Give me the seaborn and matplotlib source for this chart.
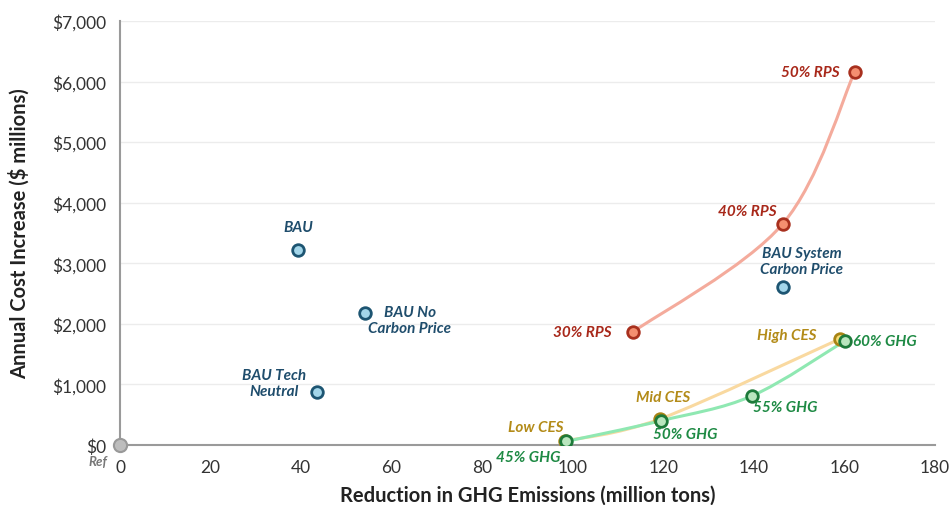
import matplotlib
matplotlib.use("Agg")
import matplotlib.pyplot as plt
from matplotlib.path import Path
from matplotlib.patches import PathPatch
from matplotlib.ticker import FuncFormatter
import numpy as np
import pandas as pd
import seaborn as sns

# scenario data (million tons reduced, $ millions)
bau_names = ["BAU", "BAU No\nCarbon Price", "BAU Tech\nNeutral", "BAU System\nCarbon Price"]
bau_x = [39.3, 54.1, 43.5, 146.4]
bau_y = [3220, 2180, 875, 2610]

rps_names = ["30% RPS", "40% RPS", "50% RPS"]
rps_x = [113.3, 146.4, 162.3]
rps_y = [1866, 3650, 6160]

ces_names = ["Low CES", "Mid CES", "High CES"]
ces_x = [98.3, 119.3, 159.0]
ces_y = [66, 430, 1750]

ghg_names = ["45% GHG", "50% GHG", "55% GHG", "60% GHG"]
ghg_x = [98.6, 119.5, 139.6, 160.1]
ghg_y = [60, 400, 810, 1717]

ref_x = [0]
ref_y = [0]

x_ticks = [0, 20, 40, 60, 80, 100, 120, 140, 160, 180]
y_ticks = [0, 1000, 2000, 3000, 4000, 5000, 6000, 7000]

# label offsets in pixels + alignment
bau_lab = [((0, 23), "center"), ((45, -7), "center"), ((-43, 9), "center"), ((19, 26), "center")]
rps_lab = [((-21, 0), "right"), ((-6, 13), "right"), ((-15, 0), "right")]
ces_lab = [((-29, 14), "center"), ((3, 22), "center"), ((-23, 4), "right")]
ghg_lab = [((-38, -16), "center"), ((24, -13), "center"), ((1, -11), "left"), ((8, 0), "left")]


def smooth_path(xs, ys):
    # Excel-like smoothed line through the points (Catmull-Rom as cubic Beziers)
    p = np.column_stack([xs, ys]).astype(float)
    pts = np.vstack([p[0], p, p[-1]])
    verts = [p[0]]
    codes = [Path.MOVETO]
    for i in range(1, len(pts) - 2):
        c1 = pts[i] + (pts[i + 1] - pts[i - 1]) / 6
        c2 = pts[i + 1] - (pts[i + 2] - pts[i]) / 6
        verts += [c1, c2, pts[i + 1]]
        codes += [Path.CURVE4] * 3
    return Path(verts, codes)


sns.set_theme(style="white")
plt.rcParams["font.family"] = ["Lato", "DejaVu Sans"]

fig = plt.figure(figsize=(9.49, 5.06), dpi=100)
ax = fig.add_axes([0.1265, 0.1186, 0.8585, 0.8379])

groups = [
    (rps_x, rps_y, rps_names, rps_lab, "#f4ab9c", "#f48f70", "#a8301e", "#a8281a"),
    (ces_x, ces_y, ces_names, ces_lab, "#f9d9a0", "#f6dd78", "#a88414", "#b38b18"),
    (ghg_x, ghg_y, ghg_names, ghg_lab, "#8fe8b2", "#b9e6be", "#1d7a3a", "#1e8a44"),
]

for xs, ys, names, labs, lc, fc, ec, tc in groups:
    ax.add_patch(PathPatch(smooth_path(xs, ys), facecolor="none", edgecolor=lc,
                           lw=2.2, zorder=2, capstyle="round"))

for xs, ys, names, labs, lc, fc, ec, tc in groups:
    df = pd.DataFrame({"x": xs, "y": ys})
    sns.scatterplot(data=df, x="x", y="y", ax=ax, s=70, color=fc, edgecolor=ec,
                    linewidth=2, zorder=4)
    for n, x, y, (off, ha) in zip(names, xs, ys, labs):
        ax.annotate(n, (x, y), xytext=off, textcoords="offset pixels", ha=ha,
                    va="center", color=tc, fontsize=11, fontweight="bold",
                    fontstyle="italic", zorder=5)

bau_df = pd.DataFrame({"x": bau_x, "y": bau_y})
sns.scatterplot(data=bau_df, x="x", y="y", ax=ax, s=70, color="#a3d6ea",
                edgecolor="#1d5572", linewidth=2, zorder=4)
for n, x, y, (off, ha) in zip(bau_names, bau_x, bau_y, bau_lab):
    ax.annotate(n, (x, y), xytext=off, textcoords="offset pixels", ha=ha,
                va="center", multialignment="center", color="#1f4d6c",
                fontsize=11, fontweight="bold", fontstyle="italic",
                linespacing=1.15, zorder=5)

ax.scatter(ref_x, ref_y, s=90, color="#bdbdbd", edgecolor="#999999",
           linewidth=1.5, zorder=6, clip_on=False)
ax.annotate("Ref", (ref_x[0], ref_y[0]), xytext=(-22, -16), textcoords="offset pixels",
            ha="center", va="center", color="#777777", fontsize=9.5,
            fontweight="bold", fontstyle="italic", annotation_clip=False)

ax.set_xlim(0, 180)
ax.set_ylim(0, 7000)
ax.set_xticks(x_ticks)
ax.set_yticks(y_ticks)
ax.yaxis.set_major_formatter(FuncFormatter(lambda v, p: f"${v:,.0f}"))
ax.grid(axis="y", color="#ececec", lw=1)
ax.set_axisbelow(True)

for s in ["top", "right"]:
    ax.spines[s].set_visible(False)
for s in ["left", "bottom"]:
    ax.spines[s].set_color("#9a9a9a")
    ax.spines[s].set_linewidth(1.5)
ax.tick_params(axis="both", direction="out", length=5, width=1.2, color="#9a9a9a",
               labelsize=12.5, labelcolor="#333333", pad=5)
ax.tick_params(axis="y", pad=5)

ax.set_xlabel("Reduction in GHG Emissions (million tons)", fontsize=14.5,
              fontweight="bold", color="#222222", labelpad=7)
ax.set_ylabel("Annual Cost Increase ($ millions)", fontsize=14.5,
              fontweight="bold", color="#222222", labelpad=16)

fig.savefig("out.png", dpi=100)
